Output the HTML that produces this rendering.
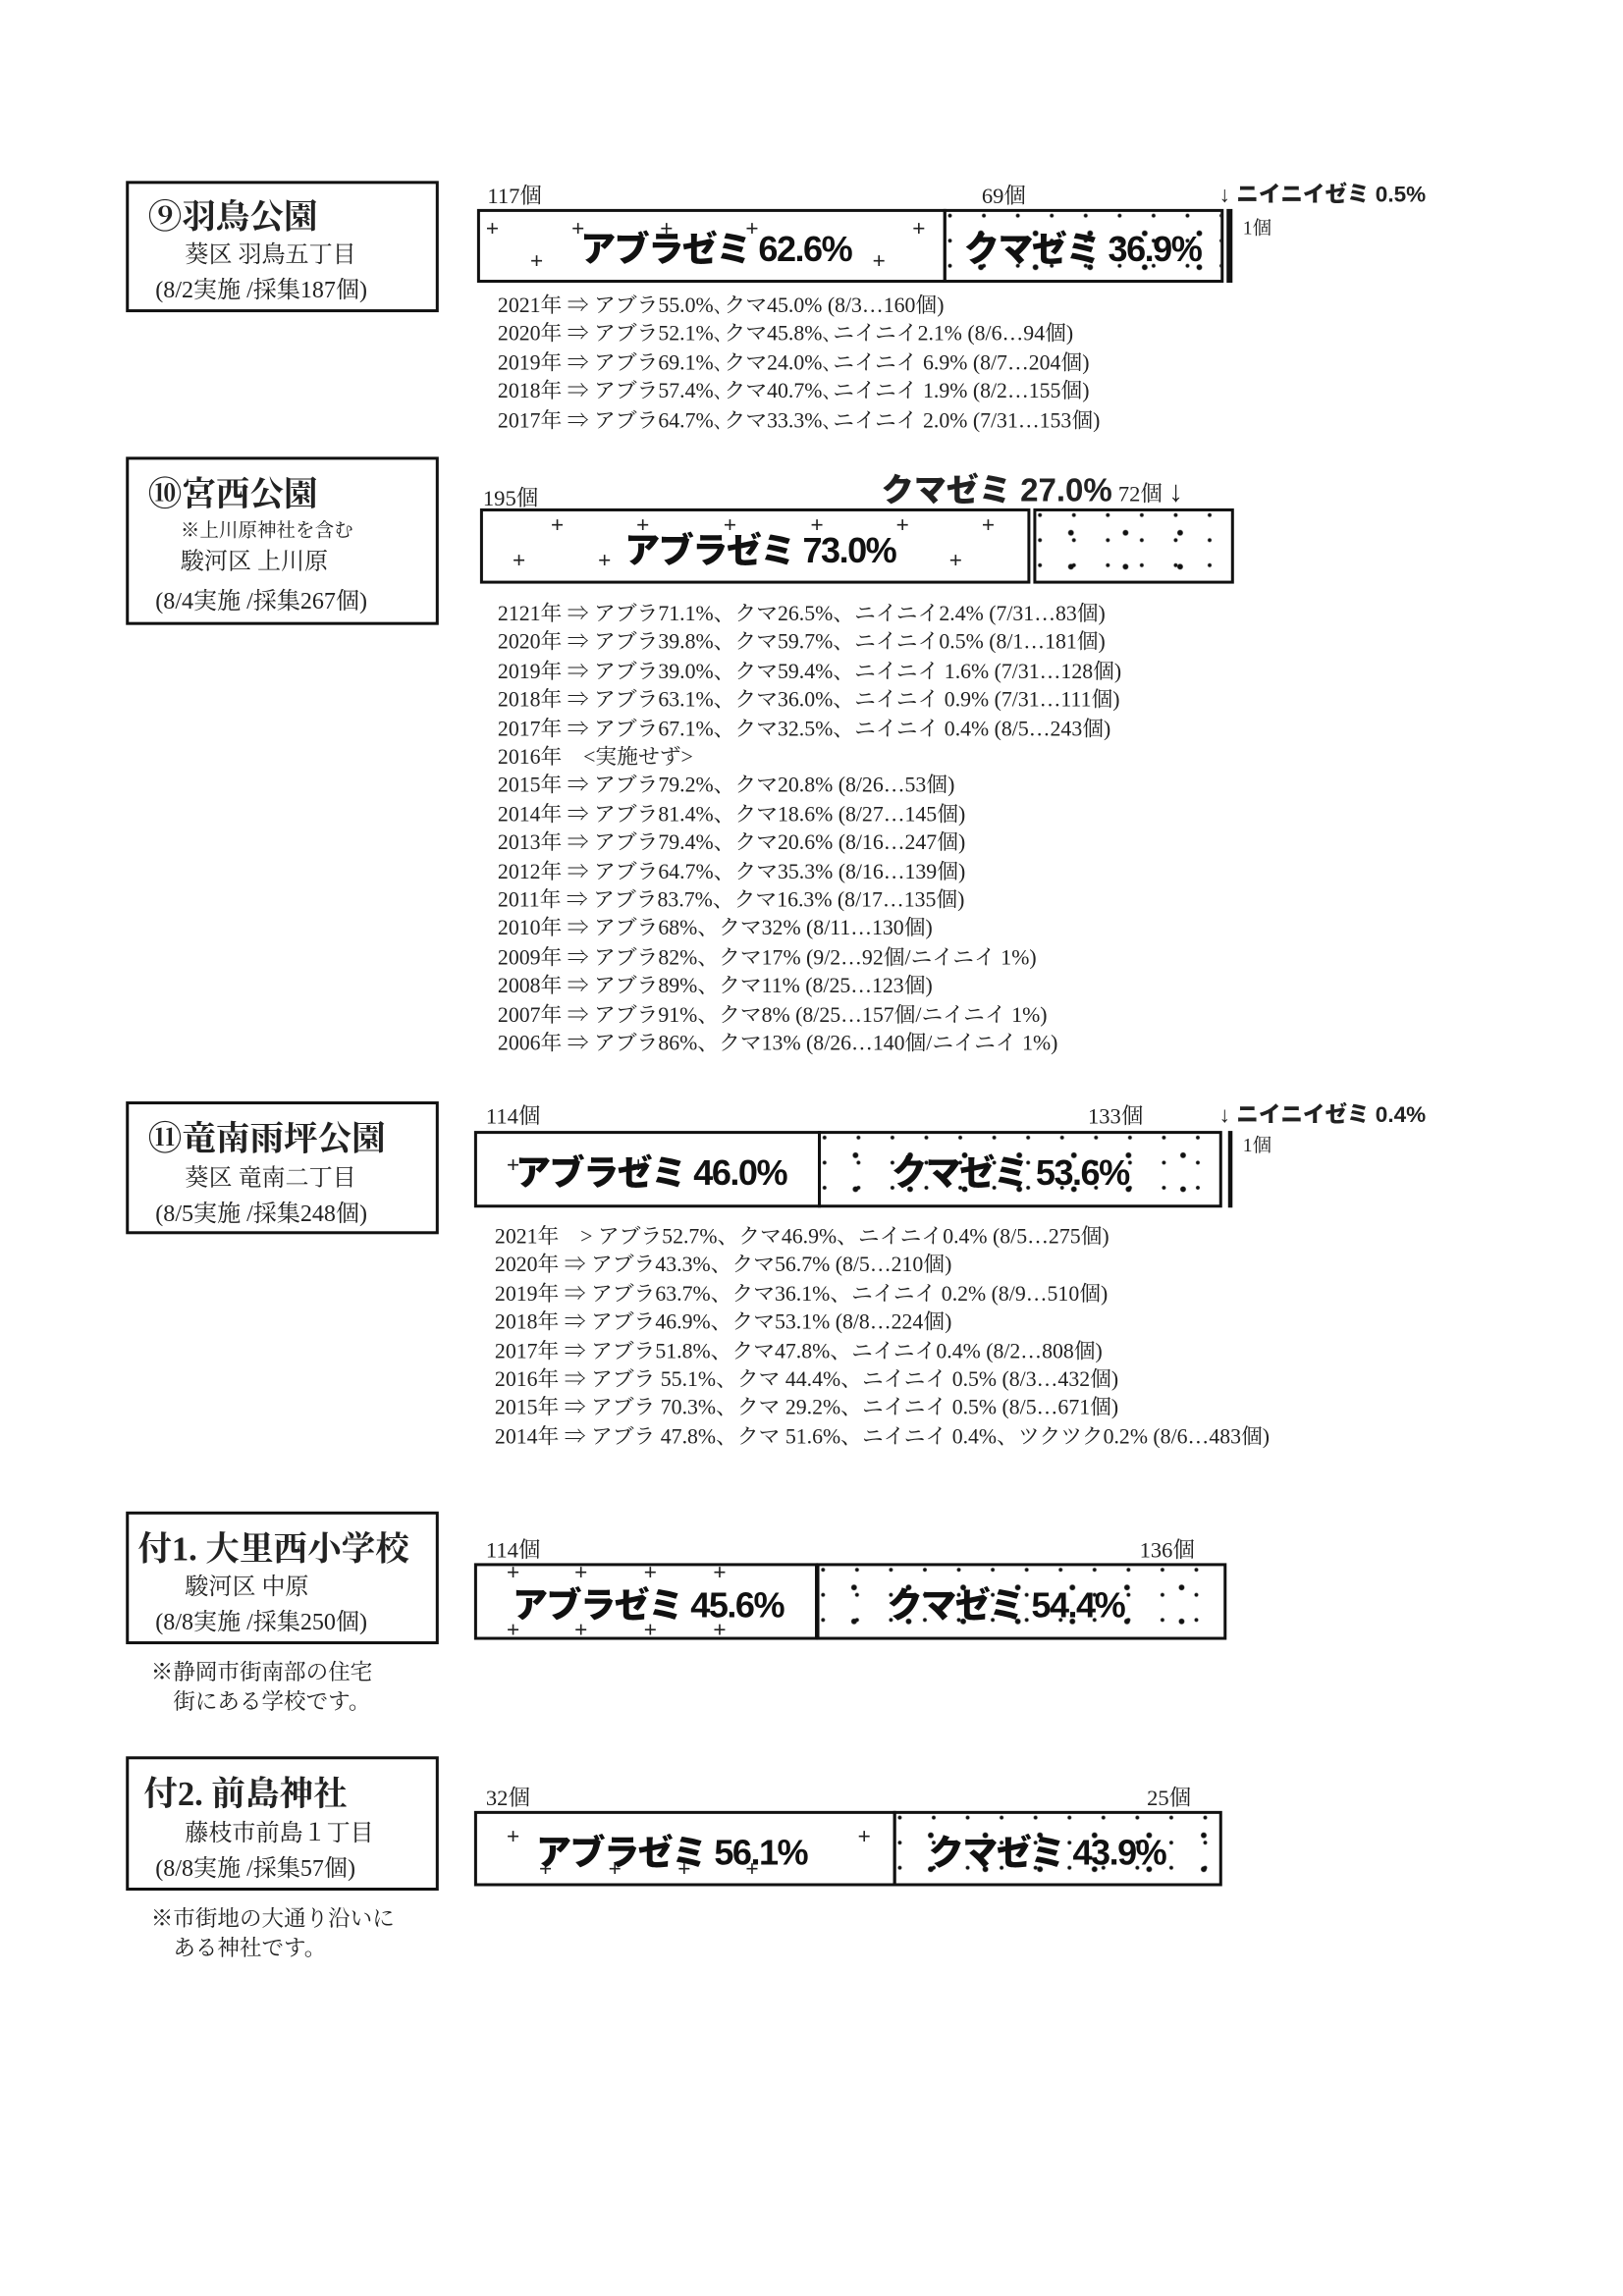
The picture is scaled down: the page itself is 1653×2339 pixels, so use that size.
<!DOCTYPE html>
<html><head><meta charset="utf-8"><style>
html,body{margin:0;padding:0;background:#fff;}
#w{position:absolute;left:-4px;top:-5px;width:1100px;height:1560px;transform:scale(1.50273);transform-origin:0 0;overflow:hidden;}
.s{font-family:"Liberation Serif","Noto Serif CJK JP",serif;color:#222;}
.a{position:absolute;white-space:nowrap;}
.box{position:absolute;border:2.5px solid #111;box-sizing:border-box;}
.bar{position:absolute;border:2.5px solid #111;box-sizing:border-box;}
.dots{background-image:radial-gradient(circle,#111 1.6px,transparent 2.2px),radial-gradient(circle,#111 1px,transparent 1.6px);background-size:37px 23px,23px 17px;background-position:5px 3px,14px 11px;}
.bt{position:absolute;font-family:"Liberation Sans","Noto Sans CJK JP",sans-serif;font-weight:900;font-size:24px;color:#111;white-space:nowrap;top:50%;transform:translateY(-50%);letter-spacing:-1px;}
.t1{font-size:23px;font-weight:bold;}
.t2{font-size:16px;}
.yl{font-size:14.5px;line-height:19.4px;}
.ct{font-size:15px;}
.ni{font-family:"Liberation Sans","Noto Sans CJK JP",sans-serif;font-weight:900;font-size:15px;}
.p{position:absolute;font-family:"Liberation Sans",sans-serif;font-size:15px;line-height:15px;}
</style></head><body><div id="w" class="s">

<!-- Section 9 -->
<div class="box" style="left:88px;top:126px;width:212px;height:89px;"></div>
<div class="a t1" style="left:103px;top:132px;">⑨羽鳥公園</div>
<div class="a t2" style="left:128px;top:163px;">葵区 羽鳥五丁目</div>
<div class="a t2" style="left:108px;top:187px;">(8/2実施 /採集187個)</div>
<div class="a ct" style="left:333px;top:125px;">117個</div>
<div class="a ct" style="left:668px;top:125px;">69個</div>
<div class="a ni" style="left:829px;top:124px;">↓ ニイニイゼミ 0.5%</div>
<div class="a" style="left:845px;top:147px;font-size:13px;">1個</div>
<div class="bar" style="left:326px;top:145px;width:318px;height:50px;">
 <span class="p" style="left:4px;top:4px;">+</span><span class="p" style="left:62px;top:4px;">+</span><span class="p" style="left:122px;top:4px;">+</span><span class="p" style="left:180px;top:4px;">+</span><span class="p" style="left:293px;top:4px;">+</span>
 <span class="p" style="left:34px;top:26px;">+</span><span class="p" style="left:266px;top:26px;">+</span>
 <span class="bt" style="left:68px;">アブラゼミ 62.6%</span></div>
<div class="bar dots" style="left:642px;top:145px;width:190px;height:50px;"><span class="bt" style="left:12px;">クマゼミ 36.9%</span></div>
<div style="position:absolute;left:834px;top:145px;width:4px;height:50px;background:#111;"></div>
<div class="a yl" style="left:340px;top:202px;">2021年 ⇒ アブラ55.0%､クマ45.0% (8/3…160個)<br>2020年 ⇒ アブラ52.1%､クマ45.8%､ニイニイ2.1% (8/6…94個)<br>2019年 ⇒ アブラ69.1%､クマ24.0%､ニイニイ 6.9% (8/7…204個)<br>2018年 ⇒ アブラ57.4%､クマ40.7%､ニイニイ 1.9% (8/2…155個)<br>2017年 ⇒ アブラ64.7%､クマ33.3%､ニイニイ 2.0% (7/31…153個)</div>

<!-- Section 10 -->
<div class="box" style="left:88px;top:313px;width:212px;height:114px;"></div>
<div class="a t1" style="left:103px;top:320px;">⑩宮西公園</div>
<div class="a" style="left:125px;top:352px;font-size:13px;">※上川原神社を含む</div>
<div class="a t2" style="left:125px;top:371px;">駿河区 上川原</div>
<div class="a t2" style="left:108px;top:398px;">(8/4実施 /採集267個)</div>
<div class="a ct" style="left:330px;top:330px;">195個</div>
<div class="a" style="left:600px;top:318px;"><span class="ni" style="font-size:22px;">クマゼミ 27.0%</span> <span class="ct">72個</span> <span style="font-size:20px;">↓</span></div>
<div class="bar" style="left:328px;top:348px;width:373px;height:51px;">
 <span class="p" style="left:46px;top:2px;">+</span><span class="p" style="left:104px;top:2px;">+</span><span class="p" style="left:163px;top:2px;">+</span><span class="p" style="left:222px;top:2px;">+</span><span class="p" style="left:280px;top:2px;">+</span><span class="p" style="left:338px;top:2px;">+</span>
 <span class="p" style="left:20px;top:26px;">+</span><span class="p" style="left:78px;top:26px;">+</span><span class="p" style="left:316px;top:26px;">+</span>
 <span class="bt" style="left:96px;">アブラゼミ 73.0%</span></div>
<div class="bar dots" style="left:703px;top:348px;width:136px;height:51px;"></div>
<div class="a yl" style="left:340px;top:411px;line-height:19.4px;">2121年 ⇒ アブラ71.1%、クマ26.5%、ニイニイ2.4% (7/31…83個)<br>2020年 ⇒ アブラ39.8%、クマ59.7%、ニイニイ0.5% (8/1…181個)<br>2019年 ⇒ アブラ39.0%、クマ59.4%、ニイニイ 1.6% (7/31…128個)<br>2018年 ⇒ アブラ63.1%、クマ36.0%、ニイニイ 0.9% (7/31…111個)<br>2017年 ⇒ アブラ67.1%、クマ32.5%、ニイニイ 0.4% (8/5…243個)<br>2016年　&lt;実施せず&gt;<br>2015年 ⇒ アブラ79.2%、クマ20.8% (8/26…53個)<br>2014年 ⇒ アブラ81.4%、クマ18.6% (8/27…145個)<br>2013年 ⇒ アブラ79.4%、クマ20.6% (8/16…247個)<br>2012年 ⇒ アブラ64.7%、クマ35.3% (8/16…139個)<br>2011年 ⇒ アブラ83.7%、クマ16.3% (8/17…135個)<br>2010年 ⇒ アブラ68%、クマ32% (8/11…130個)<br>2009年 ⇒ アブラ82%、クマ17% (9/2…92個/ニイニイ 1%)<br>2008年 ⇒ アブラ89%、クマ11% (8/25…123個)<br>2007年 ⇒ アブラ91%、クマ8% (8/25…157個/ニイニイ 1%)<br>2006年 ⇒ アブラ86%、クマ13% (8/26…140個/ニイニイ 1%)</div>

<!-- Section 11 -->
<div class="box" style="left:88px;top:750px;width:212px;height:90px;"></div>
<div class="a t1" style="left:103px;top:757px;">⑪竜南雨坪公園</div>
<div class="a t2" style="left:128px;top:789px;">葵区 竜南二丁目</div>
<div class="a t2" style="left:108px;top:813px;">(8/5実施 /採集248個)</div>
<div class="a ct" style="left:332px;top:749px;">114個</div>
<div class="a ct" style="left:740px;top:749px;">133個</div>
<div class="a ni" style="left:829px;top:748px;">↓ ニイニイゼミ 0.4%</div>
<div class="a" style="left:845px;top:769px;font-size:13px;">1個</div>
<div class="bar" style="left:324px;top:770px;width:235px;height:52px;">
 <span class="p" style="left:20px;top:14px;">+</span><span class="p" style="left:105px;top:14px;">+</span>
 <span class="bt" style="left:26px;">アブラゼミ 46.0%</span></div>
<div class="bar dots" style="left:557px;top:770px;width:274px;height:52px;"><span class="bt" style="left:48px;">クマゼミ 53.6%</span></div>
<div style="position:absolute;left:835px;top:770px;width:3px;height:52px;background:#111;"></div>
<div class="a yl" style="left:338px;top:833px;">2021年　&gt; アブラ52.7%、クマ46.9%、ニイニイ0.4% (8/5…275個)<br>2020年 ⇒ アブラ43.3%、クマ56.7% (8/5…210個)<br>2019年 ⇒ アブラ63.7%、クマ36.1%、ニイニイ 0.2% (8/9…510個)<br>2018年 ⇒ アブラ46.9%、クマ53.1% (8/8…224個)<br>2017年 ⇒ アブラ51.8%、クマ47.8%、ニイニイ0.4% (8/2…808個)<br>2016年 ⇒ アブラ 55.1%、クマ 44.4%、ニイニイ 0.5% (8/3…432個)<br>2015年 ⇒ アブラ 70.3%、クマ 29.2%、ニイニイ 0.5% (8/5…671個)<br>2014年 ⇒ アブラ 47.8%、クマ 51.6%、ニイニイ 0.4%、ツクツク0.2% (8/6…483個)</div>

<!-- 付1 -->
<div class="box" style="left:88px;top:1028px;width:212px;height:90px;"></div>
<div class="a t1" style="left:96px;top:1035px;">付1. 大里西小学校</div>
<div class="a t2" style="left:128px;top:1066px;">駿河区 中原</div>
<div class="a t2" style="left:108px;top:1090px;">(8/8実施 /採集250個)</div>
<div class="a" style="left:105px;top:1128px;font-size:15px;line-height:20px;">※静岡市街南部の住宅<br>　街にある学校です。</div>
<div class="a ct" style="left:332px;top:1043px;">114個</div>
<div class="a ct" style="left:775px;top:1043px;">136個</div>
<div class="bar" style="left:324px;top:1063px;width:233px;height:52px;">
 <span class="p" style="left:20px;top:-3px;">+</span><span class="p" style="left:66px;top:-3px;">+</span><span class="p" style="left:113px;top:-3px;">+</span><span class="p" style="left:160px;top:-3px;">+</span>
 <span class="p" style="left:20px;top:36px;">+</span><span class="p" style="left:66px;top:36px;">+</span><span class="p" style="left:113px;top:36px;">+</span><span class="p" style="left:160px;top:36px;">+</span>
 <span class="bt" style="left:24px;">アブラゼミ 45.6%</span></div>
<div class="bar dots" style="left:556px;top:1063px;width:278px;height:52px;"><span class="bt" style="left:46px;">クマゼミ 54.4%</span></div>

<!-- 付2 -->
<div class="box" style="left:88px;top:1194px;width:212px;height:91px;"></div>
<div class="a t1" style="left:100px;top:1201px;">付2. 前島神社</div>
<div class="a t2" style="left:128px;top:1233px;">藤枝市前島１丁目</div>
<div class="a t2" style="left:108px;top:1257px;">(8/8実施 /採集57個)</div>
<div class="a" style="left:105px;top:1295px;font-size:15px;line-height:20px;">※市街地の大通り沿いに<br>　ある神社です。</div>
<div class="a ct" style="left:332px;top:1211px;">32個</div>
<div class="a ct" style="left:780px;top:1211px;">25個</div>
<div class="bar" style="left:324px;top:1231px;width:286px;height:51px;">
 <span class="p" style="left:20px;top:8px;">+</span><span class="p" style="left:258px;top:8px;">+</span>
 <span class="p" style="left:42px;top:30px;">+</span><span class="p" style="left:89px;top:30px;">+</span><span class="p" style="left:136px;top:30px;">+</span><span class="p" style="left:182px;top:30px;">+</span>
 <span class="bt" style="left:40px;">アブラゼミ 56.1%</span></div>
<div class="bar dots" style="left:608px;top:1231px;width:223px;height:51px;"><span class="bt" style="left:22px;">クマゼミ 43.9%</span></div>

</div></body></html>
